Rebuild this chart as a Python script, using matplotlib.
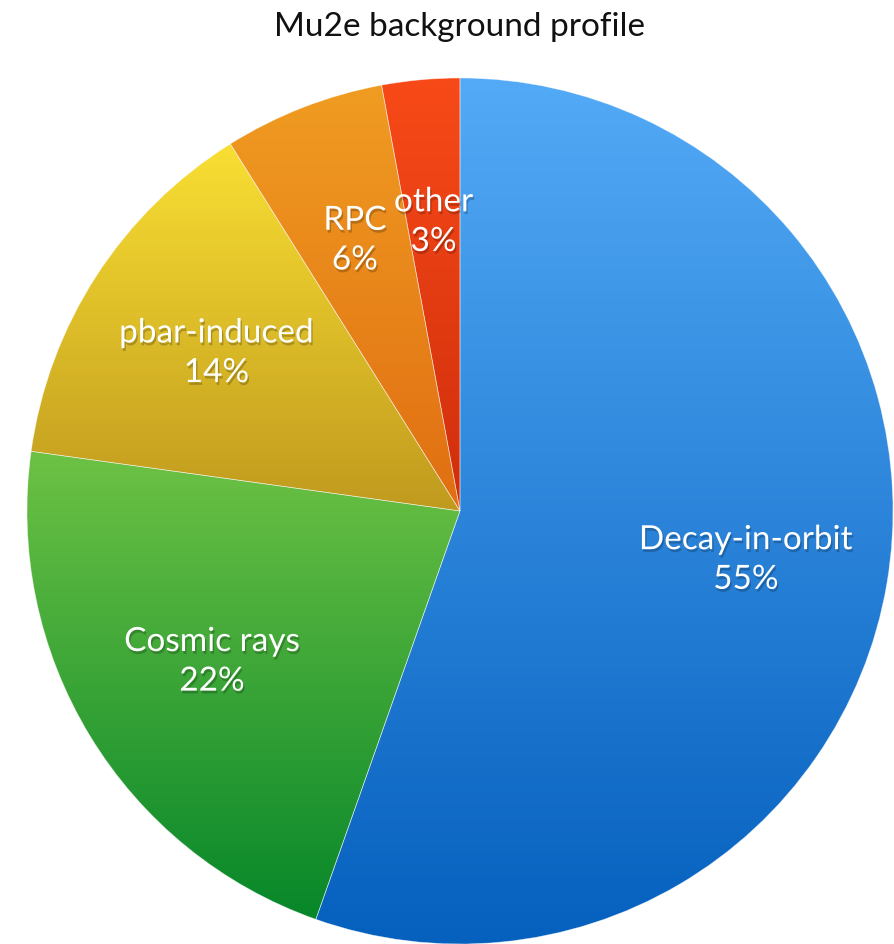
import numpy as np
import matplotlib
matplotlib.use("Agg")
import matplotlib.pyplot as plt
import matplotlib.patheffects as pe
from matplotlib.colors import LinearSegmentedColormap

# data (shares, labels show rounded values)
labels = ["Decay-in-orbit", "Cosmic rays", "pbar-induced", "RPC", "other"]
shares = [55.4, 21.8, 13.9, 6.0, 2.9]
# gradient colours per wedge (top, bottom)
tops = ["#53aaf6", "#6dc244", "#f9df33", "#f09c22", "#f84a18"]
bottoms = ["#0560be", "#07872a", "#c09a1e", "#e06e12", "#cf2e0c"]

W, H = 895, 944
fig = plt.figure(figsize=(W / 100, H / 100), dpi=100)
ax = fig.add_axes([0, 0, 1, 1])

cx, cy, R = 460, 433, 433

wedges, _ = ax.pie(shares, center=(cx, cy), radius=R, startangle=90,
                   counterclock=False, frame=True,
                   wedgeprops=dict(facecolor="none", edgecolor="#ffffff",
                                   linewidth=0.5, alpha=0.5))
ax.set_aspect("equal")
ax.axis("off")

shadow = [pe.withSimplePatchShadow(offset=(1, -2), shadow_rgbFace="black",
                                   alpha=0.22)]

for w, lab, val, c0, c1 in zip(wedges, labels, shares, tops, bottoms):
    # vertical gradient clipped to the wedge
    ext = w.get_path().get_extents(w.get_patch_transform())
    cmap = LinearSegmentedColormap.from_list("g", [c1, c0])
    grad = np.linspace(0, 1, 256).reshape(-1, 1)
    im = ax.imshow(grad, cmap=cmap, origin="lower", aspect="auto",
                   extent=[ext.x0, ext.x1, ext.y0, ext.y1], zorder=1)
    im.set_clip_path(w)
    w.set_zorder(2)

    ang = np.deg2rad((w.theta1 + w.theta2) / 2)
    tx = cx + 0.67 * R * np.cos(ang)
    ty = cy + 0.67 * R * np.sin(ang)
    ax.text(tx, ty, f"{lab}\n{round(val)}%", ha="center", va="center",
            color="white", fontsize=24, family="Lato", linespacing=1.4,
            zorder=5, path_effects=shadow)

ax.set_xlim(0, W)
ax.set_ylim(0, H)

fig.text(460 / W, 1 - 27 / H, "Mu2e background profile", ha="center",
         va="center", fontsize=24, family="Lato", color="#111111")

fig.savefig("out.png", dpi=100)
